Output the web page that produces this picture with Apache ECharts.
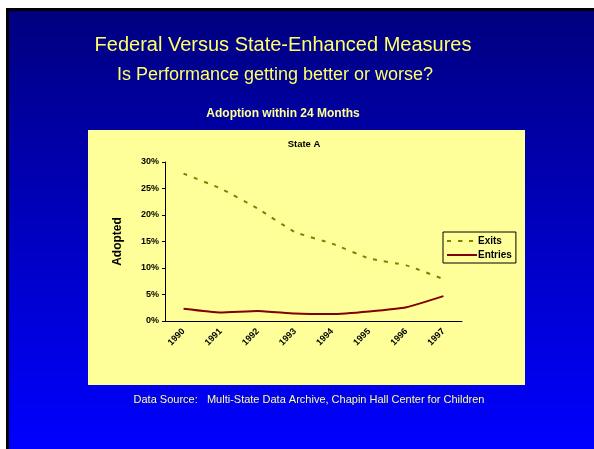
<!DOCTYPE html>
<html>
<head>
    <meta charset="utf-8">
    <style>
        body{
            margin:0;
            padding:0;
            background:#ffffff;
        }
        #chart{
            width: 594px;
            height: 449px;
        }
    </style>
</head>
<body>
    <div id="chart"></div>
    <script src="https://cdn.jsdelivr.net/npm/echarts@6/dist/echarts.min.js"></script>
    <script>
        // values, in percent
        var years = ["1990", "1991", "1992", "1993", "1994", "1995", "1996", "1997"];
        var exits = [27.8, 25.0, 21.2, 16.8, 14.6, 11.8, 10.5, 7.9];
        var entries = [2.3, 1.6, 1.9, 1.4, 1.3, 1.8, 2.6, 4.7];
        var yTicks = [0, 5, 10, 15, 20, 25, 30];

        var font = "Liberation Sans, Arial, sans-serif";
        var chart = echarts.init(document.getElementById("chart"));

        // centred text helper (slide text isn't centred on the canvas)
        function label(text, cx, cy, fnt, color) {
            return { type: 'text', x: cx, y: cy,
                     style: { text: text, fill: color, font: fnt, align: 'center', verticalAlign: 'middle' } };
        }

        var option = {
            animation: false,
            backgroundColor: '#ffffff',
            graphic: [
                // slide background + black edge
                { type: 'rect', z: -10, shape: { x: 6, y: 8, width: 588, height: 441 }, style: { fill: '#000000' } },
                { type: 'rect', z: -9, shape: { x: 9, y: 11, width: 585, height: 438 },
                  style: { fill: new echarts.graphic.LinearGradient(0, 0, 0, 1, [
                      { offset: 0, color: '#000080' },
                      { offset: 1, color: '#0000ff' }
                  ]) } },
                // yellow chart box
                { type: 'rect', z: -8, shape: { x: 88, y: 130, width: 437, height: 255 }, style: { fill: '#ffff99' } },
                label('Federal Versus State-Enhanced Measures', 283, 45, '20px ' + font, '#ffff66'),
                label('Is Performance getting better or worse?', 275, 75, '18px ' + font, '#ffff66'),
                label('Adoption within 24 Months', 283, 114, 'bold 12px ' + font, '#ffff99'),
                label('State A', 304, 144, 'bold 9.5px ' + font, '#000000'),
                label('Data Source:   Multi-State Data Archive, Chapin Hall Center for Children', 309, 400, '11px ' + font, '#ffff99')
            ],
            legend: {
                left: 443,
                top: 232,
                orient: 'vertical',
                itemWidth: 30,
                itemHeight: 2,
                itemGap: 4,
                padding: [4, 4, 3, 3],
                backgroundColor: '#ffff99',
                borderColor: '#000000',
                borderWidth: 1,
                borderRadius: 0,
                textStyle: { fontFamily: font, fontWeight: 'bold', fontSize: 10, color: '#000000', padding: [0, 0, 0, -4] },
                data: ['Exits', 'Entries']
            },
            grid: {
                left: 165,
                right: 132,
                top: 162,
                bottom: 128
            },
            xAxis: {
                type: 'category',
                data: years,
                axisLine: { lineStyle: { color: '#000000', width: 1 } },
                axisTick: { show: false },
                axisLabel: { rotate: 45, color: '#000000', fontFamily: font, fontWeight: 'bold', fontSize: 9, margin: 9 }
            },
            yAxis: {
                type: 'value',
                min: yTicks[0],
                max: yTicks[yTicks.length - 1],
                interval: 5,
                name: 'Adopted',
                nameLocation: 'middle',
                nameGap: 41,
                nameTextStyle: { color: '#000000', fontFamily: font, fontWeight: 'bold', fontSize: 12 },
                axisLine: { show: true, lineStyle: { color: '#000000', width: 1 } },
                axisTick: { show: true, length: 3, lineStyle: { color: '#000000' } },
                splitLine: { show: false },
                axisLabel: { formatter: '{value}%', color: '#000000', fontFamily: font, fontWeight: 'bold', fontSize: 9, margin: 6 }
            },
            series: [
                {
                    name: 'Exits',
                    type: 'line',
                    data: exits,
                    symbol: 'none',
                    smooth: 0.15,
                    lineStyle: { color: '#808000', width: 2, type: [4, 7] },
                    itemStyle: { color: '#808000' }
                },
                {
                    name: 'Entries',
                    type: 'line',
                    data: entries,
                    symbol: 'none',
                    smooth: 0.15,
                    lineStyle: { color: '#800000', width: 2 },
                    itemStyle: { color: '#800000' }
                }
            ]
        };

        chart.setOption(option);
    </script>
</body>
</html>
